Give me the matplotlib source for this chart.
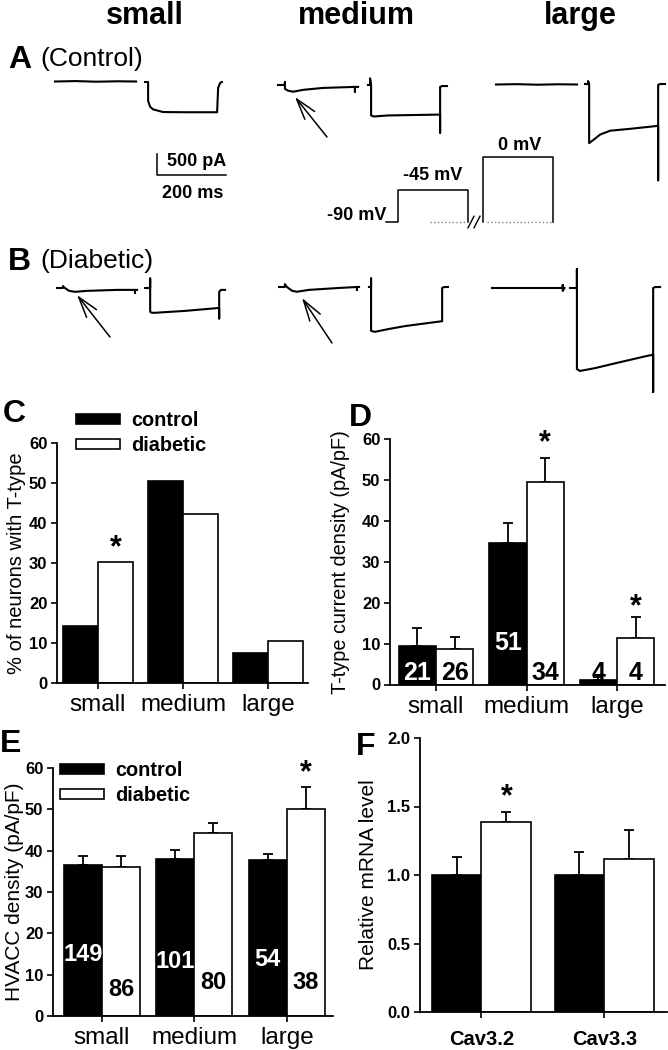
import numpy as np
import matplotlib
matplotlib.use('Agg')
import matplotlib.pyplot as plt
from matplotlib.patches import Patch
from matplotlib.ticker import FormatStrFormatter

plt.rcParams['font.family'] = ['Liberation Sans', 'DejaVu Sans']

W, H = 668, 1050

# ---------------- bar chart data ----------------
sizes = ['small', 'medium', 'large']

pct_ctrl = [14.2, 50.5, 7.5]
pct_diab = [30.3, 42.3, 10.5]

tdens_ctrl = [9.5, 34.5, 1.2]
tdens_ctrl_err = [4.2, 5.0, 0.6]
tdens_diab = [8.7, 49.6, 11.3]
tdens_diab_err = [3.0, 5.7, 5.2]
tdens_n_ctrl = ['21', '51', '4']
tdens_n_diab = ['26', '34', '4']

hva_ctrl = [36.6, 38.1, 37.7]
hva_ctrl_err = [2.1, 2.0, 1.6]
hva_diab = [36.0, 44.2, 50.1]
hva_diab_err = [2.7, 2.5, 5.2]
hva_n_ctrl = ['149', '101', '54']
hva_n_diab = ['86', '80', '38']

genes = ['Cav3.2', 'Cav3.3']
mrna_ctrl = [1.0, 1.0]
mrna_ctrl_err = [0.13, 0.17]
mrna_diab = [1.39, 1.12]
mrna_diab_err = [0.07, 0.21]

# ---------------- current traces (ms, pA) ----------------
# A (control)
a_small_t1 = [0, 60, 120, 180, 235]
a_small_i1 = [0, 10, -5, 5, 0]
a_small_t2 = [0, 9, 9, 15, 23, 52, 116, 209, 212, 218, 223]
a_small_i2 = [0, 0, -450, -590, -650, -715, -720, -720, -140, -20, 0]
a_med_t1 = [0, 20, 20, 20, 29, 44, 73, 130, 223, 223, 223, 232]
a_med_i1 = [0, 0, 70, -90, -135, -160, -115, -70, -45, -160, -45, -45]
a_med_t2 = [0, 6, 6, 9, 9, 17, 58, 206, 209, 209, 209, 215, 229]
a_med_i2 = [0, 0, 160, 0, -725, -750, -725, -705, -705, -1135, -45, -25, -25]
a_large_t1 = [0, 60, 120, 180, 235]
a_large_i1 = [0, 8, -5, 5, 0]
a_large_t2 = [0, 9, 9, 12, 12, 23, 44, 73, 131, 209, 212, 212, 212, 218, 232]
a_large_i2 = [0, 0, 70, 0, -1407, -1340, -1203, -1112, -1067, -999, -999, -2293, -23, 0, 0]
# B (diabetic)
b_small_t1 = [0, 17, 17, 23, 35, 52, 87, 174, 226, 226, 226, 232]
b_small_i1 = [0, 0, 45, 0, -68, -91, -68, -45, -45, -113, -45, -45]
b_small_t2 = [0, 15, 15, 15, 20, 29, 116, 212, 215, 215, 215, 220, 232]
b_small_i2 = [0, 0, 227, -568, -590, -590, -545, -477, -477, -726, -91, -45, -45]
b_med_t1 = [0, 17, 17, 23, 38, 52, 87, 174, 226, 226, 226, 232]
b_med_i1 = [0, 0, 68, 0, -91, -113, -68, -23, 0, -68, 0, 0]
b_med_t2 = [0, 6, 6, 6, 17, 58, 104, 209, 212, 212, 218, 229]
b_med_i2 = [0, 0, 204, -1044, -1067, -999, -931, -817, -817, -23, 0, 0]
b_large_t1 = [0, 205, 205, 205, 210]
b_large_i1 = [0, 0, 70, -70, 0]
b_large_t2 = [0, 20, 20, 20, 29, 73, 131, 226, 241, 241, 241, 247, 261]
b_large_i2 = [0, 0, 454, -1930, -1975, -1907, -1793, -1612, -1589, -2474, 0, 23, 23]

# voltage protocol (ms, mV)
proto1_t = [0, 35, 35, 238, 238]
proto1_v = [-90, -90, -45, -45, -90]
proto2_t = [0, 0, 203, 203]
proto2_v = [-90, 0, 0, -90]

fig = plt.figure(figsize=(W / 100, H / 100), dpi=100)


def px_ax(x0, y0, x1, y1):
    return fig.add_axes([x0 / W, 1 - y1 / H, (x1 - x0) / W, (y1 - y0) / H])


def ftext(x, y, s, **kw):
    fig.text(x / W, 1 - y / H, s, **kw)


# ---------------- traces ----------------
MS_PER_PX = 200 / 69
PA_PER_PX = 500 / 21
tr = px_ax(0, 0, W, H)
tr.set_xlim(0, W * MS_PER_PX)
tr.set_ylim(-H * PA_PER_PX, 0)
tr.axis('off')


def place(xp, yp):
    return xp * MS_PER_PX, -yp * PA_PER_PX


traces = [
    (a_small_t1, a_small_i1, 55, 81.5), (a_small_t2, a_small_i2, 145, 82),
    (a_med_t1, a_med_i1, 278, 85), (a_med_t2, a_med_i2, 368, 85),
    (a_large_t1, a_large_i1, 496, 84.5), (a_large_t2, a_large_i2, 585, 84),
    (b_small_t1, b_small_i1, 57, 288), (b_small_t2, b_small_i2, 145, 288),
    (b_med_t1, b_med_i1, 279, 287), (b_med_t2, b_med_i2, 369, 287),
    (b_large_t1, b_large_i1, 492, 288), (b_large_t2, b_large_i2, 570, 288),
]
for t, i, xp, yp in traces:
    t0, i0 = place(xp, yp)
    tr.plot(np.array(t) + t0, np.array(i) + i0, color='black', lw=1.5,
            solid_joinstyle='round')

# scale bar
sx, sy = place(157, 175)
tr.plot([sx, sx, sx + 200], [sy + 500, sy, sy], color='black', lw=1.1)
ftext(167, 161, '500 pA', fontsize=13, fontweight='bold', va='center')
ftext(162, 193, '200 ms', fontsize=13, fontweight='bold', va='center')

# arrows pointing to T-type currents
for tip, tail in [((295, 97), (327, 137)), ((77, 295), (110, 337)),
                  ((302, 298), (332, 343))]:
    tr.annotate('', xy=place(*tip), xytext=place(*tail),
                arrowprops=dict(arrowstyle='->,head_length=1.5,head_width=0.45',
                                lw=1.1, color='black', shrinkA=0, shrinkB=0,
                                mutation_scale=10))

# voltage protocol
MV_PX = 65 / 90
pr = px_ax(0, 0, W, H)
pr.set_xlim(0, W * MS_PER_PX)
pr.set_ylim(-90 - (H - 222) / MV_PX, -90 + 222 / MV_PX)
pr.axis('off')
pr.plot(np.array(proto1_t) + 386 * MS_PER_PX, proto1_v, color='black', lw=1.1)
pr.plot(np.array(proto2_t) + 483 * MS_PER_PX, proto2_v, color='black', lw=1.1)
pr.plot([430 * MS_PER_PX, 466 * MS_PER_PX], [-90, -90], color='gray', lw=1, ls=':')
pr.plot([487 * MS_PER_PX, 552 * MS_PER_PX], [-90, -90], color='gray', lw=1, ls=':')
for dx in (0, 6):
    pr.plot([(468 + dx) * MS_PER_PX, (474 + dx) * MS_PER_PX], [-98, -82],
            color='black', lw=1)
ftext(386, 216, '-90 mV', fontsize=13, fontweight='bold', ha='right', va='center')
ftext(433, 176, '-45 mV', fontsize=13, fontweight='bold', ha='center', va='center')
ftext(520, 145, '0 mV', fontsize=13, fontweight='bold', ha='center', va='center')

# column titles and panel labels
for xc, s in zip([145, 356, 580], sizes):
    ftext(xc, 24, s, fontsize=22, fontweight='bold', ha='center', va='baseline')
ftext(8, 68, 'A', fontsize=23, fontweight='bold', va='baseline')
ftext(40, 66, '(Control)', fontsize=19, va='baseline')
ftext(8, 270, 'B', fontsize=23, fontweight='bold', va='baseline')
ftext(40, 268, '(Diabetic)', fontsize=19, va='baseline')
ftext(3, 422, 'C', fontsize=23, fontweight='bold', va='baseline')
ftext(349, 426, 'D', fontsize=23, fontweight='bold', va='baseline')
ftext(0, 752, 'E', fontsize=23, fontweight='bold', va='baseline')
ftext(356, 755, 'F', fontsize=23, fontweight='bold', va='baseline')


# ---------------- bar panels ----------------
def bar_panel(ax, cats, ctrl, diab, width, ctrl_err=None, diab_err=None):
    x = np.arange(len(cats))
    ax.bar(x - width / 2, ctrl, width, color='black', edgecolor='black', lw=1.2, zorder=2)
    ax.bar(x + width / 2, diab, width, color='white', edgecolor='black', lw=1.2, zorder=2)
    if ctrl_err is not None:
        ax.errorbar(x - width / 2, ctrl, yerr=[np.zeros(len(x)), ctrl_err], fmt='none',
                    ecolor='black', elinewidth=1.3, capsize=3.5, capthick=1.3, zorder=1)
        ax.errorbar(x + width / 2, diab, yerr=[np.zeros(len(x)), diab_err], fmt='none',
                    ecolor='black', elinewidth=1.3, capsize=3.5, capthick=1.3, zorder=1)
    for s in ['top', 'right']:
        ax.spines[s].set_visible(False)
    for s in ['left', 'bottom']:
        ax.spines[s].set_linewidth(1.3)
    ax.set_xticks(x)
    ax.set_xticklabels(cats, fontsize=17.5)
    ax.tick_params(axis='both', width=1.2, length=4)
    ax.tick_params(axis='y', labelsize=12, pad=3)
    ax.tick_params(axis='x', pad=4)
    ax.patch.set_alpha(0)
    return x


def bold_yticks(ax):
    for lab in ax.get_yticklabels():
        lab.set_fontweight('bold')


legend_kw = dict(frameon=False, prop={'weight': 'bold', 'size': 14.3},
                 handlelength=2.2, handleheight=0.4, handletextpad=0.6,
                 labelspacing=0.3, borderpad=0, borderaxespad=0, loc='upper left',
                 bbox_transform=fig.transFigure)
handles = [Patch(facecolor='black', edgecolor='black', lw=1.2),
           Patch(facecolor='white', edgecolor='black', lw=1.2)]

# C
axC = px_ax(57, 443, 308, 683)
xC = bar_panel(axC, sizes, pct_ctrl, pct_diab, 0.41)
axC.set_xlim(-0.482, 2.47)
axC.set_ylim(0, 60)
axC.set_yticks(range(0, 61, 10))
bold_yticks(axC)
axC.set_ylabel('% of neurons with T-type', fontsize=14.5)
axC.yaxis.set_label_coords(-0.125, 0.5)
axC.text(xC[0] + 0.205, 33.8, '*', fontsize=22, fontweight='bold', ha='center', va='center')
axC.legend(handles, ['control', 'diabetic'], bbox_to_anchor=(76 / W, 1 - 411 / H), **legend_kw)

# D
axD = px_ax(390, 439, 665, 684.5)
xD = bar_panel(axD, sizes, tdens_ctrl, tdens_diab, 0.414, tdens_ctrl_err, tdens_diab_err)
axD.set_xlim(-0.508, 2.53)
axD.set_ylim(0, 60)
axD.set_yticks(range(0, 61, 10))
bold_yticks(axD)
axD.set_ylabel('T-type current density (pA/pF)', fontsize=14.3)
axD.yaxis.set_label_coords(-0.145, 0.5)
for k in range(3):
    yc = 10.1 if k == 1 else 2.8
    axD.text(xD[k] - 0.207, yc, tdens_n_ctrl[k], fontsize=18, fontweight='bold',
             color='black' if k == 2 else 'white', ha='center', va='center')
    axD.text(xD[k] + 0.207, 2.8, tdens_n_diab[k], fontsize=18, fontweight='bold',
             color='black', ha='center', va='center')
axD.text(xD[1] + 0.207, 59.0, '*', fontsize=22, fontweight='bold', ha='center', va='center')
axD.text(xD[2] + 0.207, 18.9, '*', fontsize=22, fontweight='bold', ha='center', va='center')

# E
axE = px_ax(53, 768, 333, 1016)
xE = bar_panel(axE, sizes, hva_ctrl, hva_diab, 0.41, hva_ctrl_err, hva_diab_err)
axE.set_xlim(-0.53, 2.50)
axE.set_ylim(0, 60)
axE.set_yticks(range(0, 61, 10))
bold_yticks(axE)
axE.set_ylabel('HVACC density (pA/pF)', fontsize=15)
axE.yaxis.set_label_coords(-0.105, 0.5)
n_ctrl_y = [14.8, 13.1, 13.6]
n_diab_y = [6.3, 8.0, 8.2]
for k in range(3):
    axE.text(xE[k] - 0.205, n_ctrl_y[k], hva_n_ctrl[k], fontsize=17, fontweight='bold',
             color='white', ha='center', va='center')
    axE.text(xE[k] + 0.205, n_diab_y[k], hva_n_diab[k], fontsize=17, fontweight='bold',
             color='black', ha='center', va='center')
axE.text(xE[2] + 0.205, 58.8, '*', fontsize=22, fontweight='bold', ha='center', va='center')
axE.legend(handles, ['control', 'diabetic'], bbox_to_anchor=(60 / W, 1 - 761 / H), **legend_kw)

# F
axF = px_ax(420, 738, 667, 1012)
xF = bar_panel(axF, genes, mrna_ctrl, mrna_diab, 0.405, mrna_ctrl_err, mrna_diab_err)
axF.set_xlim(-0.5, 1.51)
axF.set_ylim(0, 2.0)
axF.set_yticks(np.arange(0, 2.01, 0.5))
axF.yaxis.set_major_formatter(FormatStrFormatter('%.1f'))
bold_yticks(axF)
axF.set_xticklabels(genes, fontsize=14.5, fontweight='bold')
axF.tick_params(axis='x', pad=9)
axF.set_ylabel('Relative mRNA level', fontsize=15)
axF.yaxis.set_label_coords(-0.17, 0.5)
axF.text(xF[0] + 0.2025, 1.57, '*', fontsize=22, fontweight='bold', ha='center', va='center')

fig.savefig('out.png', dpi=100)
